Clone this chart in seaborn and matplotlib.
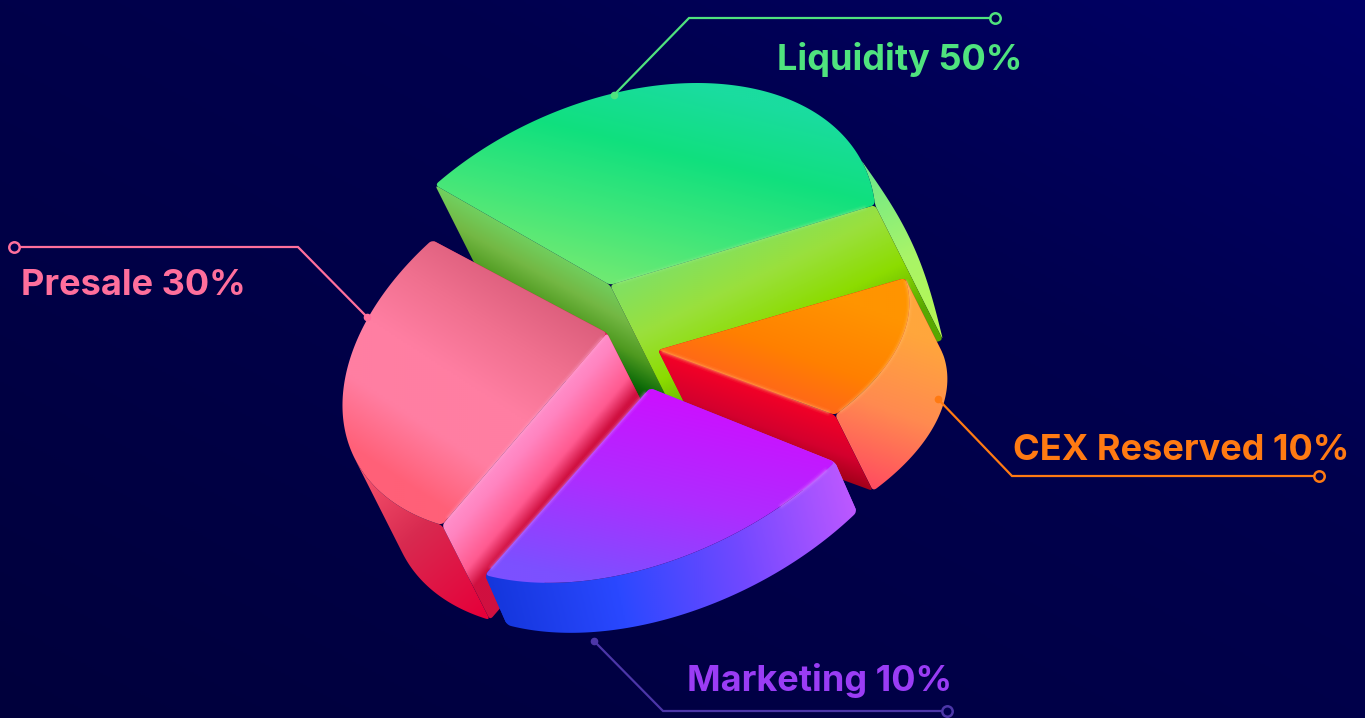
import numpy as np
import seaborn as sns
import matplotlib.pyplot as plt
from matplotlib.colors import LinearSegmentedColormap
from matplotlib.patches import Polygon

# -------- DATA --------
labels = ["Liquidity", "CEX Reserved", "Marketing", "Presale"]
shares = [50, 10, 10, 30]
label_colors = ["#4fe37e", "#ff7a12", "#9a3cf5", "#ff6f9c"]
line_colors = ["#4fe37e", "#ff7a12", "#4c36a8", "#ff6f9c"]

# -------- LAYOUT (picture pixels) --------
W, H = 1365, 718
apex = {"Liquidity": (610, 285), "CEX Reserved": (658, 350), "Marketing": (650, 388), "Presale": (607, 333)}
edge_a = {"Liquidity": (435, 185), "CEX Reserved": (905, 278), "Marketing": (835, 462), "Presale": (432, 240)}
edge_b = {"Liquidity": (875, 205), "CEX Reserved": (835, 415), "Marketing": (485, 575), "Presale": (442, 525)}
depth = {"Liquidity": (68, 135), "CEX Reserved": (38, 76), "Marketing": (22, 50), "Presale": (48, 95)}
sweep = {"Liquidity": 127, "CEX Reserved": 56, "Marketing": 84, "Presale": 100}
rim_bulge = {"Liquidity": 12, "CEX Reserved": 0, "Marketing": 0, "Presale": 0}
draw_order = ["Liquidity", "CEX Reserved", "Presale", "Marketing"]

# gradient per face: start point, end point, colour stops
top_fill = {
    "Liquidity": ((690, 85), (640, 290), ["#1adc9f", "#10e07e", "#3de67a", "#70ea72"]),
    "CEX Reserved": ((800, 285), (755, 410), ["#ff9400", "#ff8000", "#ff5c24"]),
    "Marketing": ((670, 395), (625, 590), ["#cc10ff", "#ae2cff", "#7c50ff"]),
    "Presale": ((560, 300), (430, 500), ["#dc5e7c", "#f0708f", "#ff7ea2", "#ff7ea2", "#ff6078"]),
}
rim_fill = {
    "Liquidity": ((870, 170), (945, 340), ["#6fe98a", "#a8f468", "#b8f850"]),
    "CEX Reserved": ((930, 340), (875, 490), ["#ffa63c", "#ff8a50", "#ff4c60"]),
    "Marketing": ((490, 600), (855, 510), ["#1436dc", "#2a48ff", "#7048ff", "#bc58ff"]),
    "Presale": ((350, 450), (490, 610), ["#ff6076", "#d82a50", "#e6003a"]),
}
side_fill = {
    "Liquidity": ((700, 250), (765, 385), ["#82e060", "#9ae03c", "#8cdc00", "#58a800"]),
    "CEX Reserved": ((750, 382), (725, 452), ["#f60026", "#d4002e", "#880010"]),
    "Marketing": rim_fill["Marketing"],
    "Presale": ((522, 428), (572, 470), ["#ff90cc", "#ff84c0", "#ff70a8", "#ff5a90", "#d01040"]),
}
back_fill = {
    "Liquidity": ((525, 235), (475, 325), ["#70d060", "#74b844", "#4f9a20", "#0c6a08", "#101c00"]),
    "CEX Reserved": ((750, 382), (725, 452), ["#d4002e", "#880010"]),
    "Marketing": rim_fill["Marketing"],
    "Presale": ((522, 428), (580, 478), ["#e0104e", "#b80030"]),
}
highlights = {"Liquidity": "#9af08c", "CEX Reserved": "#ffc070", "Marketing": "#e088ff", "Presale": "#ffa8d4"}
# share of the arc that catches the light, from its first end
arc_glow = {"Liquidity": 0.0, "CEX Reserved": 1.0, "Marketing": 0.22, "Presale": 0.0}

# leader lines: dot end, elbow, ring end
leaders = {
    "Liquidity": [(614, 95), (689, 18), (995, 18)],
    "CEX Reserved": [(938, 399), (1012, 476), (1319, 476)],
    "Marketing": [(594, 641), (663, 711), (947, 711)],
    "Presale": [(367, 317), (298, 247), (14, 247)],
}
text_pos = {"Liquidity": (777, 70), "CEX Reserved": (1013, 460), "Marketing": (687, 691), "Presale": (21, 295)}

# -------- CANVAS --------
sns.set_theme(style="white")
plt.rcParams["font.family"] = ["Inter", "DejaVu Sans"]
fig = plt.figure(figsize=(W / 100, H / 100), dpi=100)
ax = fig.add_axes([0, 0, 1, 1])

wedges, _ = ax.pie(shares, startangle=90, counterclock=False, colors=sns.color_palette(label_colors))
ax.set_aspect("auto")
ax.axis("off")

gx, gy = np.meshgrid(np.linspace(0, W, 683), np.linspace(0, H, 359))


def fill(points, spec, z):
    """Gradient image clipped to a polygon."""
    p0, p1, stops = spec
    p0, p1 = np.array(p0, float), np.array(p1, float)
    v = p1 - p0
    grad = np.clip(((gx - p0[0]) * v[0] + (gy - p0[1]) * v[1]) / (v @ v), 0, 1)
    cmap = LinearSegmentedColormap.from_list("face", stops)
    im = ax.imshow(grad, cmap=cmap, vmin=0, vmax=1, extent=(0, W, H, 0), aspect="auto",
                   interpolation="bilinear", zorder=z)
    patch = Polygon(points, closed=True, transform=ax.transData)
    im.set_clip_path(patch)


def rounded(points, radius=4):
    """Resample the outline every pixel and average it, which softens the corners."""
    pts = np.vstack([points, points[:1]])
    dist = np.r_[0, np.cumsum(np.hypot(*np.diff(pts, axis=0).T))]
    s = np.arange(0, dist[-1], 1.0)
    x, y = np.interp(s, dist, pts[:, 0]), np.interp(s, dist, pts[:, 1])
    win = np.ones(2 * radius + 1) / (2 * radius + 1)
    x = np.convolve(np.r_[x[-radius:], x, x[:radius]], win, mode="valid")
    y = np.convolve(np.r_[y[-radius:], y, y[:radius]], win, mode="valid")
    return np.column_stack([x, y])


def glow(points, color, z):
    for lw, alpha in [(5, 0.08), (3, 0.15), (1.5, 0.22)]:
        ax.plot(points[:, 0], points[:, 1], color=color, lw=lw, alpha=alpha, zorder=z,
                solid_capstyle="round")


# background
bg = LinearSegmentedColormap.from_list("bg", ["#00003c", "#000046", "#00004e", "#000068"])
ax.imshow((gx / W + (H - gy) / H) / 2, cmap=bg, vmin=0, vmax=1, extent=(0, W, H, 0), aspect="auto", zorder=0)

# -------- SLICES --------
wedge_by_label = dict(zip(labels, wedges))
for n, name in enumerate(draw_order):
    w = wedge_by_label[name]
    w.set_visible(False)
    # pie angles of this slice, laid onto the tilted top face
    t = np.linspace(w.theta1, w.theta2, 120)
    u = (t - w.theta1) / (w.theta2 - w.theta1)
    s = np.radians(sweep[name])
    a = np.array(apex[name], float)
    v1 = np.array(edge_a[name], float) - a
    v2 = np.array(edge_b[name], float) - a
    arc = a + (np.outer(np.sin((1 - u) * s), v1) + np.outer(np.sin(u * s), v2)) / np.sin(s)
    d = np.array(depth[name], float)

    # only the stretch of arc facing the extrusion direction shows a rim
    tang = np.gradient(arc, axis=0)
    normal = np.column_stack([tang[:, 1], -tang[:, 0]])
    normal[np.sum(normal * (arc - a), axis=1) < 0] *= -1
    seen = np.where(normal @ d > 0)[0]
    outer = arc[seen.min():seen.max() + 1]
    rim = np.vstack([outer, (outer + d)[::-1]])

    # a rim seen nearly edge-on: swollen curve from further up the arc down to the tip
    if rim_bulge[name]:
        k = int(0.88 * len(arc))
        push = np.array([d[1], -d[0]]) / np.hypot(*d)
        f = np.linspace(0, 1, 40)[:, None]
        curve = (arc[-1] + d) * (1 - f) + arc[k] * f + rim_bulge[name] * np.sin(np.pi * f) * push
        rim = np.vstack([arc[k:], curve])

    z = 2 + n * 5
    back = np.array([a, a + v1, a + v1 + d, a + d])
    side = np.array([a, a + v2, a + v2 + d, a + d])
    top = np.vstack([a, arc])

    fill(rounded(back), back_fill[name], z)
    fill(rounded(rim), rim_fill[name], z + 1)
    fill(rounded(side), side_fill[name], z + 1)
    fill(rounded(top), top_fill[name], z + 2)

    # soft lit edges of the top face
    glow(np.array([a + 0.03 * v2, a + 0.96 * v2]), highlights[name], z + 3)
    lit = int(arc_glow[name] * len(arc))
    if lit:
        glow(arc[4:lit - 4], highlights[name], z + 3)

# -------- LEADERS AND LABELS --------
for name, share, col, line_col in zip(labels, shares, label_colors, line_colors):
    pts = np.array(leaders[name])
    ax.plot(pts[:, 0], pts[:, 1], color=line_col, lw=1.6, zorder=40, solid_joinstyle="miter")
    ax.plot(*pts[0], "o", color=line_col, ms=4.5, zorder=41)
    ax.plot(*pts[-1], "o", mfc="#00004e", mec=line_col, mew=1.8, ms=7.5, zorder=41)
    ax.text(*text_pos[name], f"{name} {share}%", color=col, fontsize=26, fontweight="bold",
            ha="left", va="baseline", zorder=42)

ax.set_xlim(0, W)
ax.set_ylim(H, 0)
fig.savefig("out.png", dpi=100)
